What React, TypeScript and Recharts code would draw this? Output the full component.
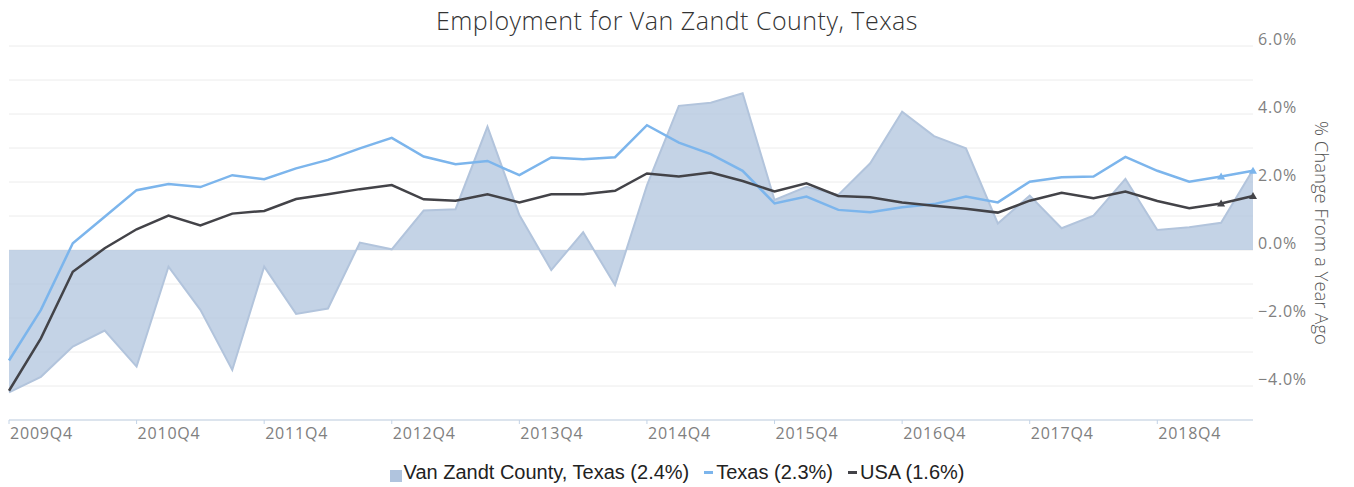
import React from 'react';
import { ComposedChart, Area, Line, XAxis, YAxis, CartesianGrid } from 'recharts';

const quarters = [
  '2009Q4', '2010Q1', '2010Q2', '2010Q3', '2010Q4', '2011Q1', '2011Q2', '2011Q3',
  '2011Q4', '2012Q1', '2012Q2', '2012Q3', '2012Q4', '2013Q1', '2013Q2', '2013Q3',
  '2013Q4', '2014Q1', '2014Q2', '2014Q3', '2014Q4', '2015Q1', '2015Q2', '2015Q3',
  '2015Q4', '2016Q1', '2016Q2', '2016Q3', '2016Q4', '2017Q1', '2017Q2', '2017Q3',
  '2017Q4', '2018Q1', '2018Q2', '2018Q3', '2018Q4', '2019Q1', '2019Q2', '2019Q3',
];

const vanZandt = [
  -4.19, -3.73, -2.84, -2.37, -3.43, -0.49, -1.76, -3.53, -0.49, -1.88,
  -1.72, 0.22, 0.02, 1.16, 1.2, 3.63, 1.03, -0.59, 0.52, -1.03,
  1.9, 4.24, 4.33, 4.61, 1.47, 1.86, 1.62, 2.55, 4.07, 3.35,
  2.99, 0.78, 1.6, 0.64, 1.01, 2.09, 0.59, 0.67, 0.8, 2.36,
];

const texas = [
  -3.25, -1.76, 0.2, 0.98, 1.76, 1.94, 1.85, 2.2, 2.08, 2.4,
  2.65, 2.99, 3.3, 2.75, 2.52, 2.62, 2.2, 2.72, 2.67, 2.73,
  3.67, 3.16, 2.82, 2.33, 1.37, 1.57, 1.18, 1.11, 1.26, 1.35,
  1.57, 1.4, 2.01, 2.14, 2.16, 2.74, 2.33, 2.01, 2.16, 2.33,
];

const usa = [
  -4.14, -2.6, -0.64, 0.05, 0.61, 1.01, 0.72, 1.07, 1.15, 1.5,
  1.64, 1.79, 1.91, 1.49, 1.45, 1.64, 1.4, 1.64, 1.64, 1.74,
  2.25, 2.16, 2.28, 2.03, 1.72, 1.96, 1.59, 1.55, 1.4, 1.3,
  1.21, 1.1, 1.45, 1.68, 1.52, 1.72, 1.44, 1.23, 1.37, 1.59,
];

const yTicks = [-5, -4, -3, -2, -1, 0, 1, 2, 3, 4, 5, 6];

const legendItems = [
  { name: 'Van Zandt County, Texas (2.4%)', color: '#b0c4de', kind: 'square' },
  { name: 'Texas (2.3%)', color: '#7cb5ec', kind: 'line' },
  { name: 'USA (1.6%)', color: '#434348', kind: 'line' },
];

const data = quarters.map((q, i) => ({ q, vz: vanZandt[i], tx: texas[i], us: usa[i] }));

const AXIS_FONT = '"Open Sans", sans-serif';

const XTick = ({ x, y, payload }: any) => (
  <text x={x + 1} y={y + 13} fill="#808080" fontSize={16} fontFamily={AXIS_FONT} letterSpacing={0.8}>
    {payload.value}
  </text>
);

const YTick = ({ x, y, payload }: any) => {
  const v = payload.value;
  if (v % 2 !== 0) return <g />;
  const label = (v < 0 ? '\u2212' : '') + Math.abs(v).toFixed(1) + '%';
  return (
    <text x={x} y={y - 1} fill="#808080" fontSize={16} fontFamily={AXIS_FONT} letterSpacing={0.8} textAnchor="start">
      {label}
    </text>
  );
};

const YTitle = ({ viewBox }: any) => {
  const cx = viewBox.x + 69;
  const cy = viewBox.y + viewBox.height / 2;
  return (
    <text
      x={cx}
      y={cy}
      transform={`rotate(90 ${cx} ${cy})`}
      textAnchor="middle"
      dominantBaseline="central"
      fill="#555"
      fontSize={18.5}
      fontFamily={AXIS_FONT}
      fontWeight={300}
    >
      % Change From a Year Ago
    </text>
  );
};

const triDot = (color: string) => (props: any) => {
  const { cx, cy, index } = props;
  if (index < quarters.length - 2) return <g key={`d-${index}`} />;
  return (
    <path
      key={`d-${index}`}
      d={`M${cx},${cy - 4} L${cx + 4},${cy + 3} L${cx - 4},${cy + 3} Z`}
      fill={color}
    />
  );
};

export default function App() {
  return (
    <div style={{ position: 'absolute', left: 0, top: 0, width: 1354, height: 487, background: '#fff' }}>
      <div
        style={{
          position: 'absolute',
          top: 3,
          left: 0,
          width: 1354,
          textAlign: 'center',
          fontFamily: AXIS_FONT,
          fontWeight: 300,
          fontSize: 25,
          letterSpacing: 0.5,
          color: '#333',
        }}
      >
        Employment for Van Zandt County, Texas
      </div>
      <ComposedChart width={1354} height={487} data={data} margin={{ top: 46, right: 0, bottom: 37, left: 9 }}>
        <CartesianGrid vertical={false} stroke="#ececec" />
        <XAxis
          dataKey="q"
          scale="point"
          interval={3}
          height={30}
          stroke="#c3d3e6"
          tickSize={4}
          tickMargin={2}
          tick={<XTick />}
        />
        <YAxis
          orientation="right"
          width={101}
          domain={[-5, 6]}
          ticks={yTicks}
          axisLine={false}
          tickLine={false}
          tickSize={0}
          tickMargin={5}
          tick={<YTick />}
          label={<YTitle />}
        />
        <Area
          dataKey="vz"
          baseValue={0}
          type="linear"
          stroke="#b2c4dc"
          strokeWidth={2}
          fill="#b0c4de"
          fillOpacity={0.75}
          isAnimationActive={false}
        />
        <Line
          dataKey="tx"
          type="linear"
          stroke="#7cb5ec"
          strokeWidth={2.5}
          dot={triDot('#7cb5ec')}
          activeDot={false}
          isAnimationActive={false}
        />
        <Line
          dataKey="us"
          type="linear"
          stroke="#434348"
          strokeWidth={2.5}
          dot={triDot('#434348')}
          activeDot={false}
          isAnimationActive={false}
        />
      </ComposedChart>
      <div
        style={{
          position: 'absolute',
          top: 461,
          left: 0,
          width: 1354,
          display: 'flex',
          justifyContent: 'center',
          alignItems: 'center',
          fontFamily: '"Liberation Sans", Arial, sans-serif',
          fontSize: 20,
          color: '#222',
        }}
      >
        {legendItems.map((it, i) => (
          <div key={it.name} style={{ display: 'flex', alignItems: 'center', marginLeft: i === 0 ? 0 : 15 }}>
            {it.kind === 'square' ? (
              <span style={{ width: 12, height: 12, background: it.color, marginRight: 2, marginTop: 6 }} />
            ) : (
              <span style={{ width: 9, height: 3, background: it.color, marginRight: 3 }} />
            )}
            <span>{it.name}</span>
          </div>
        ))}
      </div>
    </div>
  );
}
